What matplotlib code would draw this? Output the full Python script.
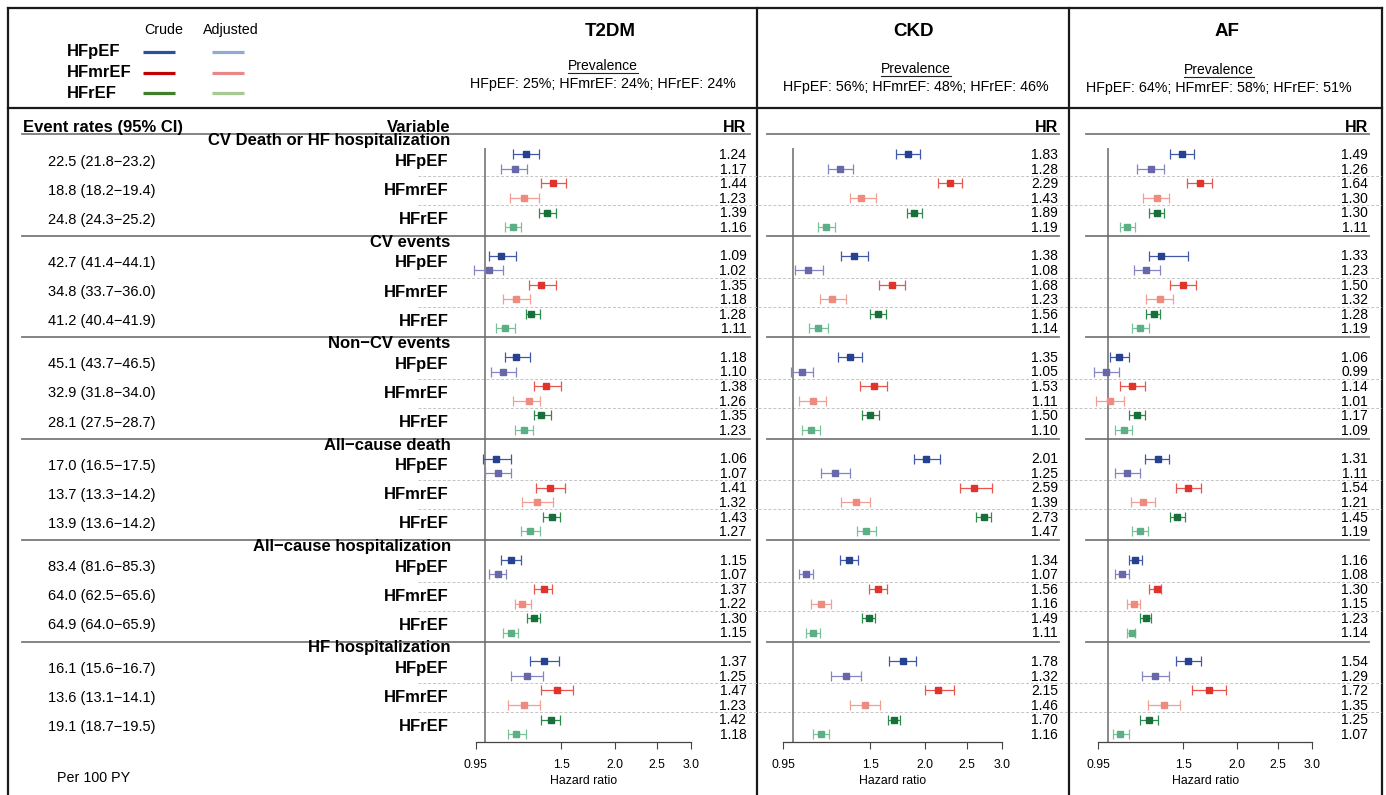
import matplotlib
matplotlib.use('Agg')
import matplotlib.pyplot as plt
from matplotlib.ticker import NullLocator, FixedLocator, FixedFormatter

plt.rcParams['font.family'] = ['Liberation Sans', 'DejaVu Sans']

# ---------------- data ----------------
panels = ['T2DM', 'CKD', 'AF']
prevalence = ['HFpEF: 25%; HFmrEF: 24%; HFrEF: 24%',
              'HFpEF: 56%; HFmrEF: 48%; HFrEF: 46%',
              'HFpEF: 64%; HFmrEF: 58%; HFrEF: 51%']
outcomes = ['CV Death or HF hospitalization', 'CV events', 'Non\u2212CV events',
            'All\u2212cause death', 'All\u2212cause hospitalization', 'HF hospitalization']
hf_types = ['HFpEF', 'HFmrEF', 'HFrEF']
event_rates = [
    ['22.5 (21.8\u221223.2)', '18.8 (18.2\u221219.4)', '24.8 (24.3\u221225.2)'],
    ['42.7 (41.4\u221244.1)', '34.8 (33.7\u221236.0)', '41.2 (40.4\u221241.9)'],
    ['45.1 (43.7\u221246.5)', '32.9 (31.8\u221234.0)', '28.1 (27.5\u221228.7)'],
    ['17.0 (16.5\u221217.5)', '13.7 (13.3\u221214.2)', '13.9 (13.6\u221214.2)'],
    ['83.4 (81.6\u221285.3)', '64.0 (62.5\u221265.6)', '64.9 (64.0\u221265.9)'],
    ['16.1 (15.6\u221216.7)', '13.6 (13.1\u221214.1)', '19.1 (18.7\u221219.5)'],
]
# order within each outcome: HFpEF crude, HFpEF adj, HFmrEF crude, HFmrEF adj, HFrEF crude, HFrEF adj
hr_t2dm = [1.24, 1.17, 1.44, 1.23, 1.39, 1.16, 1.09, 1.02, 1.35, 1.18, 1.28, 1.11,
           1.18, 1.10, 1.38, 1.26, 1.35, 1.23, 1.06, 1.07, 1.41, 1.32, 1.43, 1.27,
           1.15, 1.07, 1.37, 1.22, 1.30, 1.15, 1.37, 1.25, 1.47, 1.23, 1.42, 1.18]
lo_t2dm = [1.16, 1.09, 1.35, 1.14, 1.33, 1.11, 1.02, 0.94, 1.26, 1.10, 1.24, 1.06,
           1.11, 1.03, 1.30, 1.16, 1.30, 1.17, 0.99, 1.00, 1.31, 1.22, 1.36, 1.21,
           1.09, 1.02, 1.30, 1.17, 1.25, 1.10, 1.27, 1.15, 1.35, 1.13, 1.35, 1.13]
hi_t2dm = [1.33, 1.25, 1.54, 1.33, 1.46, 1.21, 1.18, 1.10, 1.46, 1.27, 1.34, 1.17,
           1.27, 1.18, 1.50, 1.34, 1.42, 1.29, 1.15, 1.15, 1.53, 1.44, 1.49, 1.34,
           1.21, 1.12, 1.43, 1.28, 1.34, 1.19, 1.48, 1.36, 1.60, 1.34, 1.49, 1.24]
hr_ckd = [1.83, 1.28, 2.29, 1.43, 1.89, 1.19, 1.38, 1.08, 1.68, 1.23, 1.56, 1.14,
          1.35, 1.05, 1.53, 1.11, 1.50, 1.10, 2.01, 1.25, 2.59, 1.39, 2.73, 1.47,
          1.34, 1.07, 1.56, 1.16, 1.49, 1.11, 1.78, 1.32, 2.15, 1.46, 1.70, 1.16]
lo_ckd = [1.72, 1.20, 2.15, 1.35, 1.82, 1.14, 1.29, 1.01, 1.57, 1.15, 1.50, 1.09,
          1.27, 0.99, 1.42, 1.03, 1.44, 1.05, 1.89, 1.16, 2.41, 1.29, 2.62, 1.40,
          1.28, 1.03, 1.49, 1.10, 1.44, 1.07, 1.66, 1.22, 2.00, 1.35, 1.65, 1.11]
hi_ckd = [1.95, 1.37, 2.44, 1.55, 1.97, 1.25, 1.48, 1.17, 1.80, 1.32, 1.63, 1.20,
          1.44, 1.11, 1.64, 1.19, 1.57, 1.15, 2.17, 1.35, 2.85, 1.50, 2.84, 1.55,
          1.41, 1.11, 1.64, 1.22, 1.54, 1.15, 1.91, 1.43, 2.33, 1.58, 1.76, 1.21]
hr_af = [1.49, 1.26, 1.64, 1.30, 1.30, 1.11, 1.33, 1.23, 1.50, 1.32, 1.28, 1.19,
         1.06, 0.99, 1.14, 1.01, 1.17, 1.09, 1.31, 1.11, 1.54, 1.21, 1.45, 1.19,
         1.16, 1.08, 1.30, 1.15, 1.23, 1.14, 1.54, 1.29, 1.72, 1.35, 1.25, 1.07]
lo_af = [1.40, 1.17, 1.53, 1.21, 1.25, 1.07, 1.25, 1.15, 1.40, 1.23, 1.23, 1.14,
         1.01, 0.93, 1.07, 0.94, 1.12, 1.04, 1.22, 1.04, 1.44, 1.13, 1.40, 1.14,
         1.12, 1.04, 1.25, 1.11, 1.19, 1.11, 1.44, 1.20, 1.57, 1.24, 1.19, 1.03]
hi_af = [1.59, 1.35, 1.75, 1.39, 1.35, 1.16, 1.54, 1.32, 1.61, 1.42, 1.32, 1.25,
         1.12, 1.06, 1.22, 1.09, 1.22, 1.14, 1.39, 1.19, 1.65, 1.29, 1.51, 1.24,
         1.20, 1.12, 1.33, 1.19, 1.26, 1.16, 1.65, 1.39, 1.89, 1.47, 1.31, 1.12]
tick_vals = [0.95, 1.5, 2.0, 2.5, 3.0]
tick_labels = ['0.95', '1.5', '2.0', '2.5', '3.0']

panel_data = [(hr_t2dm, lo_t2dm, hi_t2dm), (hr_ckd, lo_ckd, hi_ckd), (hr_af, lo_af, hi_af)]

# ---------------- styles / layout ----------------
W, H = 1386, 795
marker_cols = ['#25418F', '#6767A9', '#E0332B', '#EE8B7E', '#17703A', '#5CAE85']
ci_cols = ['#4058A8', '#8585C2', '#E6564C', '#F19F92', '#2C8A4C', '#78C19B']
leg_crude = ['#2F4F9A', '#C40000', '#3F7E2B']
leg_adj = ['#93A9D3', '#E88888', '#A6CA91']

x095 = [475.7, 783.4, 1098.3]
x300 = [690.7, 1001.6, 1312.3]
hr_text_x = [746.5, 1058.0, 1368.0]
sep_span = [(22, 750), (766.5, 1059), (1085.5, 1368.5)]
title_x = [610, 913, 1227]
prev_x = [603, 916, 1219]
prev_y = [(66, 84), (69, 87), (70.5, 88)]
ax_top, ax_bot = 147.5, 742.0
row0, row_step, grp_step = 154.3, 14.55, 101.4


def row_y(g, j):
    return row0 + g * grp_step + j * row_step


fig = plt.figure(figsize=(W / 100, H / 100), dpi=100)
ov = fig.add_axes([0, 0, 1, 1])
ov.set_xlim(0, W)
ov.set_ylim(H, 0)
ov.axis('off')

# frame
fc = '#1a1a1a'
flw = 1.6
ov.plot([7.5, 7.5], [8.3, H], color=fc, lw=flw)
ov.plot([1382, 1382], [8.3, H], color=fc, lw=flw)
ov.plot([7.5, 1382], [8.3, 8.3], color=fc, lw=flw)
ov.plot([7.5, 1382], [107.5, 107.5], color=fc, lw=flw)
for xd in (757.3, 1069.3):
    ov.plot([xd, xd], [8.3, H], color=fc, lw=flw)

# legend in header
ov.text(163.3, 30, 'Crude', ha='center', va='center', fontsize=10.3)
ov.text(231, 30, 'Adjusted', ha='center', va='center', fontsize=10.3)
for k, name in enumerate(hf_types):
    yy = 51.7 + k * 20.8
    ov.text(66.7, yy, name, ha='left', va='center', fontsize=12, fontweight='bold')
    ov.plot([143.3, 175], [yy, yy], color=leg_crude[k], lw=2.3, solid_capstyle='butt')
    ov.plot([212.3, 244.3], [yy, yy], color=leg_adj[k], lw=2.3, solid_capstyle='butt')

# panel headers
prev_texts = []
for i, name in enumerate(panels):
    ov.text(title_x[i], 32, name, ha='center', va='center', fontsize=13.5, fontweight='bold')
    t = ov.text(prev_x[i], prev_y[i][0], 'Prevalence', ha='center', va='center', fontsize=10)
    prev_texts.append(t)
    ov.text(prev_x[i], prev_y[i][1], prevalence[i], ha='center', va='center', fontsize=10.3)

# column headers
ov.text(22.7, 127.5, 'Event rates (95% CI)', ha='left', va='center', fontsize=12, fontweight='bold')
ov.text(450.7, 127.5, 'Variable', ha='right', va='center', fontsize=12, fontweight='bold')
for i in range(3):
    ov.text(hr_text_x[i], 127.5, 'HR', ha='right', va='center', fontsize=11.5, fontweight='bold')
    ov.plot(sep_span[i], [134.3, 134.3], color='#7a7a7a', lw=1.3)

# left labels, separators
for g, oc in enumerate(outcomes):
    ov.text(450.7, row_y(g, 0) - 13.5, oc, ha='right', va='center', fontsize=12, fontweight='bold')
    for k in range(3):
        ym = (row_y(g, 2 * k) + row_y(g, 2 * k + 1)) / 2
        ov.text(448.5, ym, hf_types[k], ha='right', va='center', fontsize=12, fontweight='bold')
        ov.text(48.3, ym, event_rates[g][k], ha='left', va='center', fontsize=10.5)
    for k in (1, 3):
        yd = (row_y(g, k) + row_y(g, k + 1)) / 2
        ov.plot([418, 1381], [yd, yd], color='#c4c4c4', lw=0.7, ls=(0, (3, 2)))
    if g < len(outcomes) - 1:
        ys = row_y(g, 5) + 9
        for i in range(3):
            ov.plot(sep_span[i], [ys, ys], color='#7a7a7a', lw=1.3)

ov.text(57, 778, 'Per 100 PY', ha='left', va='center', fontsize=10.3)

# forest panels
for i in range(3):
    hr, lo, hi = panel_data[i]
    ax = fig.add_axes([x095[i] / W, (H - ax_bot) / H, (x300[i] - x095[i]) / W, (ax_bot - ax_top) / H])
    ax.patch.set_visible(False)
    ax.set_xscale('log')
    ax.set_xlim(0.95, 3.0)
    ax.set_ylim(ax_bot, ax_top)
    for s in ('top', 'right', 'left'):
        ax.spines[s].set_visible(False)
    ax.spines['bottom'].set_color('#444444')
    ax.spines['bottom'].set_linewidth(0.9)
    ax.set_yticks([])
    ax.xaxis.set_major_locator(FixedLocator(tick_vals))
    ax.xaxis.set_major_formatter(FixedFormatter(tick_labels))
    ax.xaxis.set_minor_locator(NullLocator())
    ax.tick_params(axis='x', length=5, width=0.8, color='#444444', labelsize=8.8, pad=7.5)
    ax.set_xlabel('Hazard ratio', fontsize=8.8, labelpad=2.5)
    ax.axvline(1.0, color='#6a6a6a', lw=1.1, zorder=1)
    for g in range(6):
        for j in range(6):
            n = g * 6 + j
            y = row_y(g, j)
            cont = ax.errorbar([hr[n]], [y], xerr=[[hr[n] - lo[n]], [hi[n] - hr[n]]],
                               fmt='none', ecolor=ci_cols[j], elinewidth=0.9,
                               capsize=3.4, capthick=0.9, zorder=2)
            for child in cont.get_children():
                child.set_clip_on(False)
            ax.plot([hr[n]], [y], marker='s', ms=5.0, color=marker_cols[j],
                    mec=marker_cols[j], ls='none', zorder=3, clip_on=False)
            ov.text(hr_text_x[i], y + 0.8, f'{hr[n]:.2f}', ha='right', va='center', fontsize=10)

# underline "Prevalence"
fig.canvas.draw()
r = fig.canvas.get_renderer()
for t in prev_texts:
    bb = t.get_window_extent(renderer=r)
    yb = H - bb.y0 - 0.5
    ov.plot([bb.x0, bb.x1], [yb, yb], color='#222222', lw=0.8)

fig.savefig('out.png', dpi=100)
